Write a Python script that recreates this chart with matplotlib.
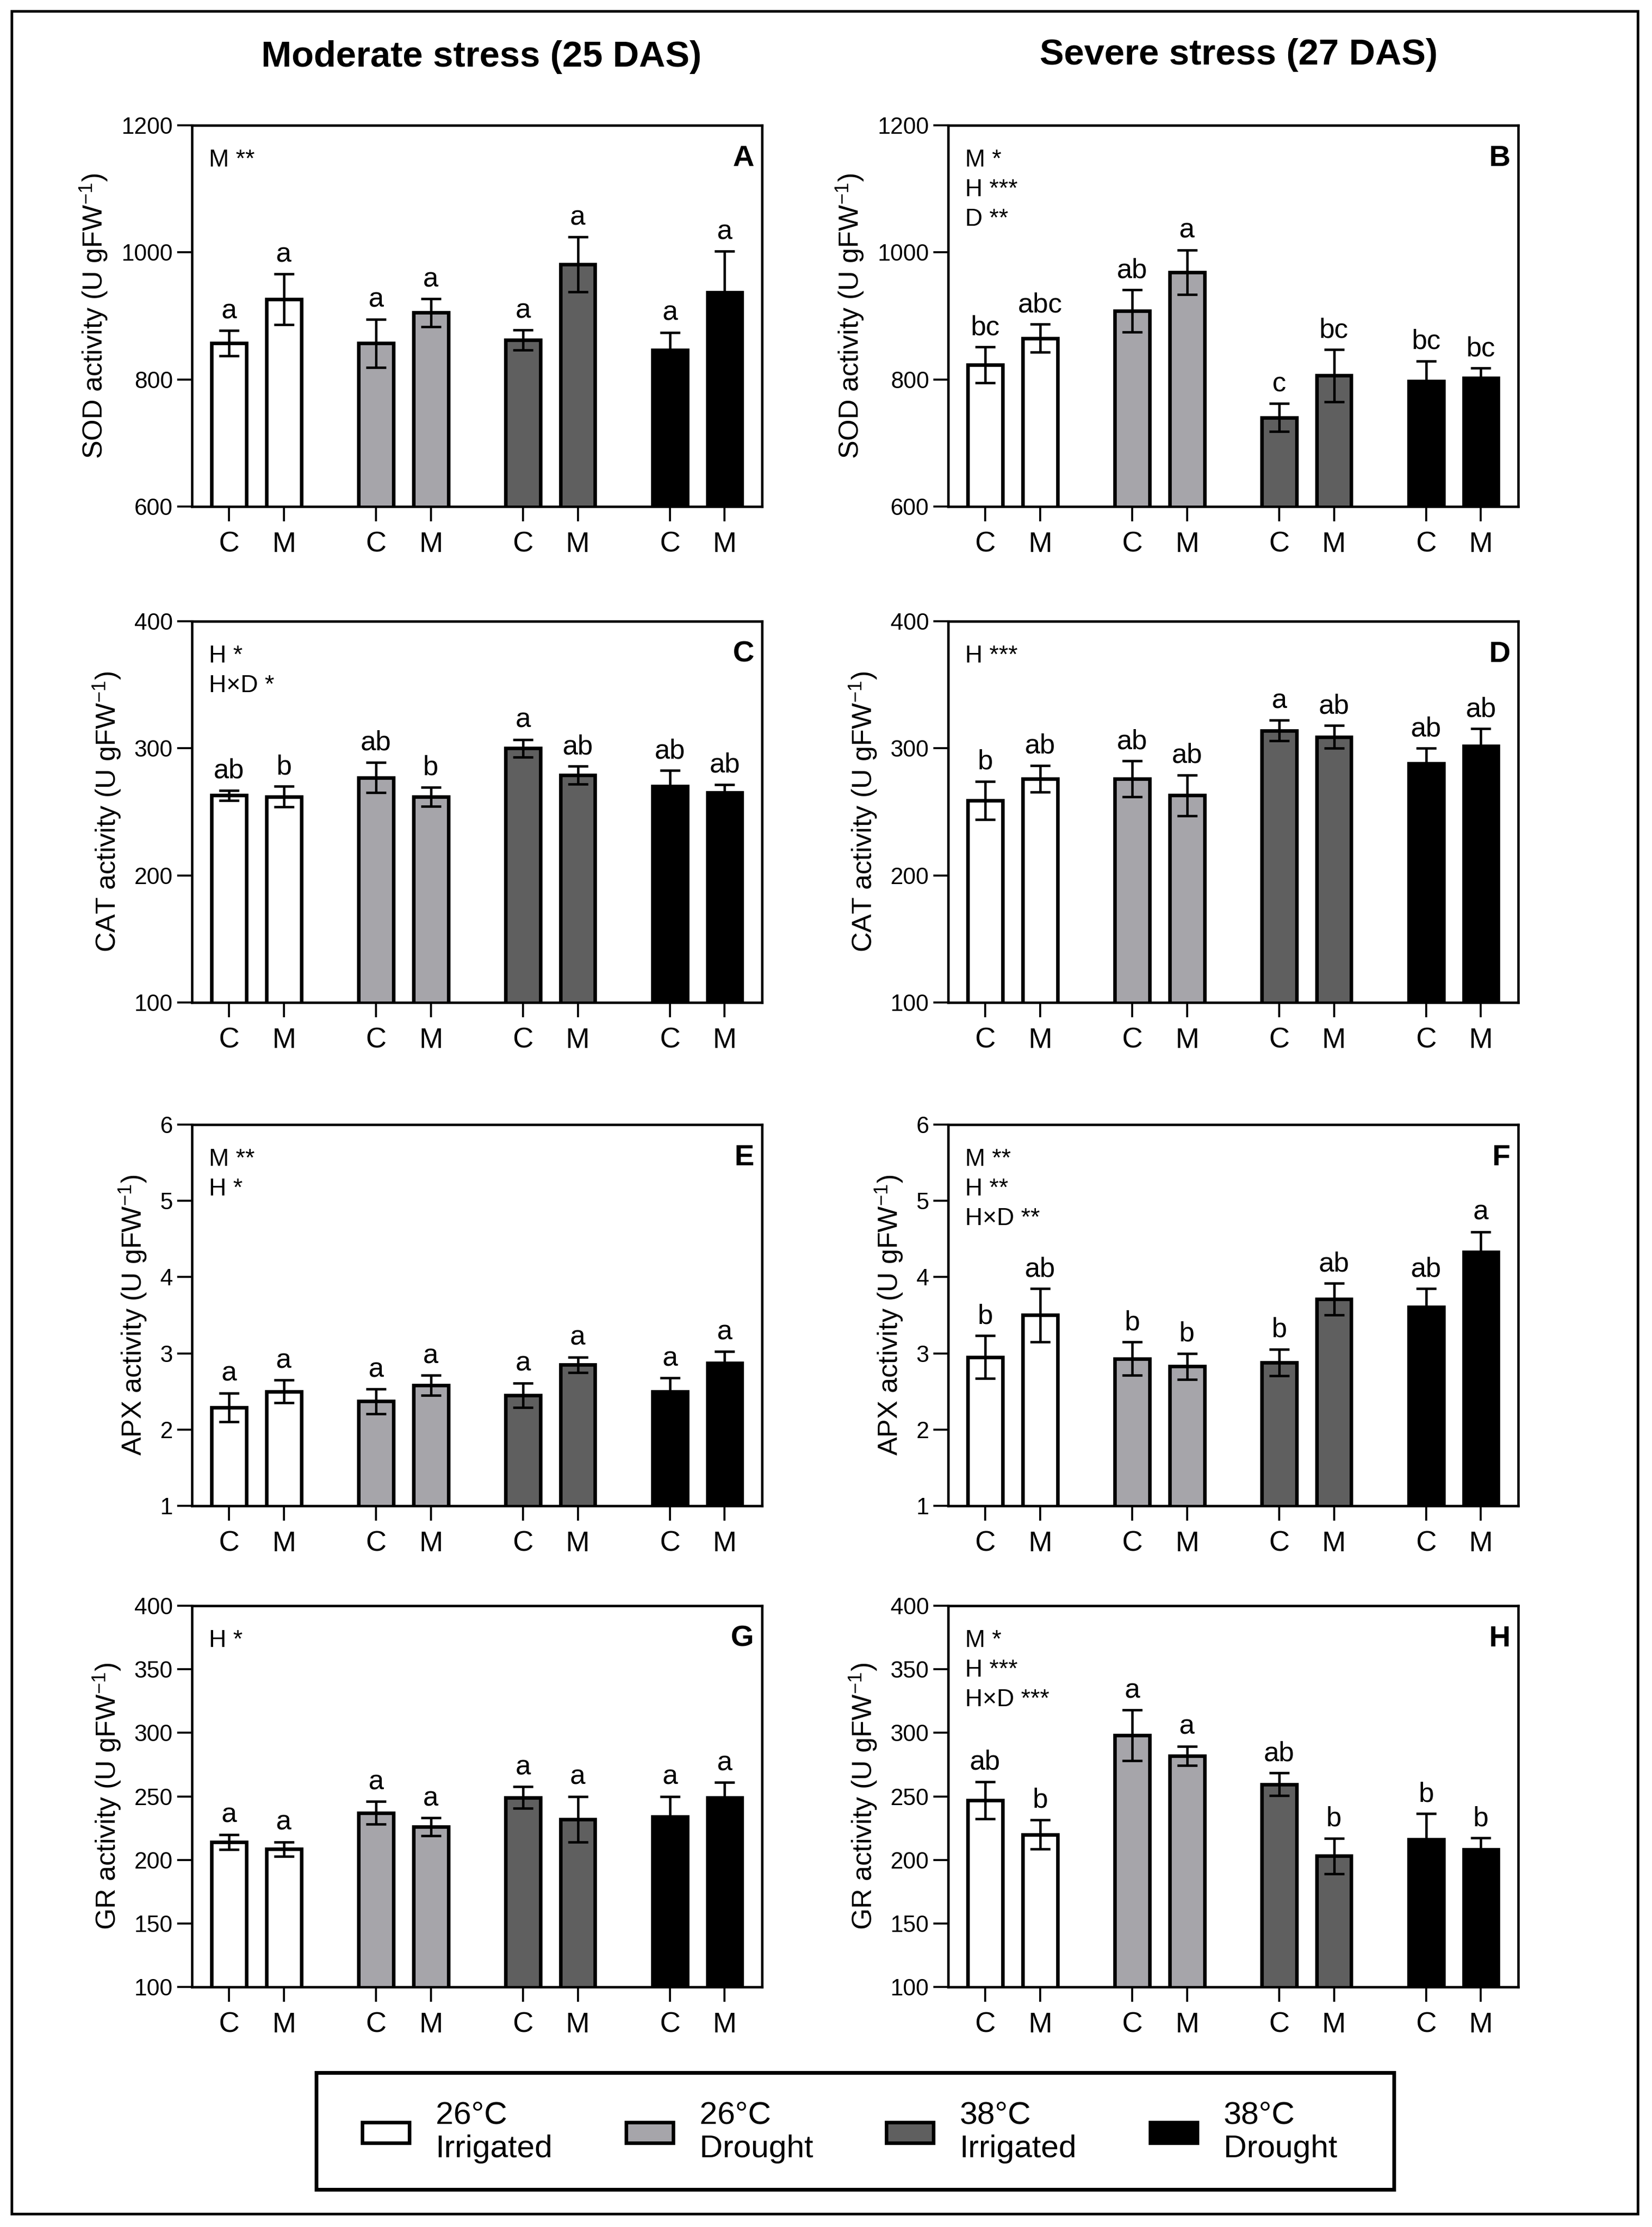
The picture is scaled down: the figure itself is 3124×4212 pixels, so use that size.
import numpy as np
import matplotlib
matplotlib.use('Agg')
import matplotlib.pyplot as plt
from matplotlib.patches import Patch, Rectangle

plt.rcParams['font.family'] = ['Liberation Sans', 'DejaVu Sans']
plt.rcParams['mathtext.fontset'] = 'custom'
plt.rcParams['mathtext.rm'] = 'Liberation Sans'
plt.rcParams['mathtext.default'] = 'regular'

# treatments / legend
treatments = ['26°C\nIrrigated', '26°C\nDrought', '38°C\nIrrigated', '38°C\nDrought']
colors = ['#ffffff', '#a6a5aa', '#5f5f5f', '#000000']
inoc = ['C', 'M']

# SOD
sod_25 = [857, 926, 857, 905, 862, 981, 846, 937]
sod_25_err = [20, 40, 38, 22, 16, 43, 28, 65]
sod_25_letters = ['a', 'a', 'a', 'a', 'a', 'a', 'a', 'a']
sod_27 = [823, 865, 908, 969, 740, 806, 797, 802]
sod_27_err = [28, 22, 33, 35, 22, 41, 32, 16]
sod_27_letters = ['bc', 'abc', 'ab', 'a', 'c', 'bc', 'bc', 'bc']

# CAT
cat_25 = [263, 262, 277, 262, 300, 279, 270, 265]
cat_25_err = [4, 8, 12, 7.5, 7, 7, 12.5, 6.5]
cat_25_letters = ['ab', 'b', 'ab', 'b', 'a', 'ab', 'ab', 'ab']
cat_27 = [259, 276, 276, 263, 314, 309, 288, 302]
cat_27_err = [15, 10.5, 14, 16, 8, 9, 12, 13.5]
cat_27_letters = ['b', 'ab', 'ab', 'ab', 'a', 'ab', 'ab', 'ab']

# APX
apx_25 = [2.29, 2.50, 2.37, 2.58, 2.45, 2.85, 2.50, 2.87]
apx_25_err = [0.19, 0.15, 0.16, 0.13, 0.16, 0.10, 0.175, 0.155]
apx_25_letters = ['a', 'a', 'a', 'a', 'a', 'a', 'a', 'a']
apx_27 = [2.95, 3.50, 2.93, 2.83, 2.88, 3.71, 3.61, 4.33]
apx_27_err = [0.28, 0.35, 0.22, 0.17, 0.175, 0.21, 0.24, 0.265]
apx_27_letters = ['b', 'ab', 'b', 'b', 'b', 'ab', 'ab', 'a']

# GR
gr_25 = [214, 208.5, 237, 226, 249, 232, 234, 249]
gr_25_err = [6, 5.7, 9, 7, 8.5, 18, 16, 12]
gr_25_letters = ['a', 'a', 'a', 'a', 'a', 'a', 'a', 'a']
gr_27 = [247, 220, 298, 282, 259.5, 203, 216, 208]
gr_27_err = [14.5, 11.6, 20, 7.5, 9, 14, 20.4, 9.3]
gr_27_letters = ['ab', 'b', 'a', 'a', 'ab', 'b', 'b', 'b']

# ANOVA effects
sig = {
    'A': ['M **'],
    'B': ['M *', 'H ***', 'D **'],
    'C': ['H *', 'H×D *'],
    'D': ['H ***'],
    'E': ['M **', 'H *'],
    'F': ['M **', 'H **', 'H×D **'],
    'G': ['H *'],
    'H': ['M *', 'H ***', 'H×D ***'],
}

W, H = 3124, 4212
fig = plt.figure(figsize=(W / 300, H / 300), dpi=300)

group_step = 2.68
x = np.array([g * group_step + k for g in range(4) for k in range(2)])
bar_colors = [c for c in colors for _ in range(2)]

ax_w, ax_h = 1078, 721
lefts = [363, 1793]
bottoms = [958, 1896, 2848, 3758]


def panel(ax, vals, errs, letters, tag, ylim, yticks, ylabel):
    ax.bar(x, vals, width=0.635, color=bar_colors, edgecolor='black',
           linewidth=1.6, zorder=2)
    ax.errorbar(x, vals, yerr=errs, fmt='none', ecolor='black',
                elinewidth=1.1, capsize=4.5, capthick=1.1, zorder=3)
    for xi, v, e, l in zip(x, vals, errs, letters):
        ax.annotate(l, (xi, v + e), xytext=(0, 5.5), textcoords='offset points',
                    ha='center', va='baseline', fontsize=12.5)
    ax.set_ylim(*ylim)
    ax.set_yticks(yticks)
    ax.set_xlim(-0.675, 3 * group_step + 1 + 0.68)
    ax.set_xticks(x)
    ax.set_xticklabels(inoc * 4)
    for s in ax.spines.values():
        s.set_linewidth(1.1)
    ax.tick_params(axis='y', length=6.7, width=0.9, pad=2, labelsize=10.5)
    ax.tick_params(axis='x', length=6.7, width=0.9, pad=4.5, labelsize=13)
    ax.set_ylabel(ylabel, fontsize=12.5, labelpad=5)
    ax.text(1 - 15 / ax_w, 1 - 37 / ax_h, tag, transform=ax.transAxes,
            ha='right', va='top', fontsize=13.5, fontweight='bold')
    for i, s in enumerate(sig[tag]):
        ax.text(32 / ax_w, 1 - (44 + i * 56) / ax_h, s, transform=ax.transAxes,
                ha='left', va='top', fontsize=11)


panels = [
    (sod_25, sod_25_err, sod_25_letters, 'A', (600, 1200), [600, 800, 1000, 1200], 'SOD'),
    (sod_27, sod_27_err, sod_27_letters, 'B', (600, 1200), [600, 800, 1000, 1200], 'SOD'),
    (cat_25, cat_25_err, cat_25_letters, 'C', (100, 400), [100, 200, 300, 400], 'CAT'),
    (cat_27, cat_27_err, cat_27_letters, 'D', (100, 400), [100, 200, 300, 400], 'CAT'),
    (apx_25, apx_25_err, apx_25_letters, 'E', (1, 6), [1, 2, 3, 4, 5, 6], 'APX'),
    (apx_27, apx_27_err, apx_27_letters, 'F', (1, 6), [1, 2, 3, 4, 5, 6], 'APX'),
    (gr_25, gr_25_err, gr_25_letters, 'G', (100, 400), [100, 150, 200, 250, 300, 350, 400], 'GR'),
    (gr_27, gr_27_err, gr_27_letters, 'H', (100, 400), [100, 150, 200, 250, 300, 350, 400], 'GR'),
]

for i, (vals, errs, letters, tag, ylim, yticks, enz) in enumerate(panels):
    row, col = divmod(i, 2)
    ax = fig.add_axes([lefts[col] / W, 1 - bottoms[row] / H, ax_w / W, ax_h / H])
    panel(ax, vals, errs, letters, tag, ylim, yticks,
          enz + ' activity (U gFW$^{-1}$)')

fig.text(910 / W, 1 - 108 / H, 'Moderate stress (25 DAS)', ha='center',
         va='center', fontsize=16.5, fontweight='bold')
fig.text(2342 / W, 1 - 104 / H, 'Severe stress (27 DAS)', ha='center',
         va='center', fontsize=16.5, fontweight='bold')

handles = [Patch(facecolor=c, edgecolor='black', linewidth=1.6) for c in colors]
fig.legend(handles, treatments, loc='center', bbox_to_anchor=(1607 / W, 1 - 4033 / H),
           ncol=4, frameon=False, fontsize=14.5, handlelength=1.46,
           handleheight=0.61, handletextpad=0.83, columnspacing=2.3, borderpad=0)

fig.add_artist(Rectangle((598 / W, 1 - 4141 / H), (2636 - 598) / W, (4141 - 3920) / H,
                         transform=fig.transFigure, fill=False, lw=1.7, edgecolor='black'))
fig.add_artist(Rectangle((22 / W, 1 - 4187 / H), (3097 - 22) / W, (4187 - 21) / H,
                         transform=fig.transFigure, fill=False, lw=1.2, edgecolor='black'))

fig.savefig('out.png', dpi=300)
